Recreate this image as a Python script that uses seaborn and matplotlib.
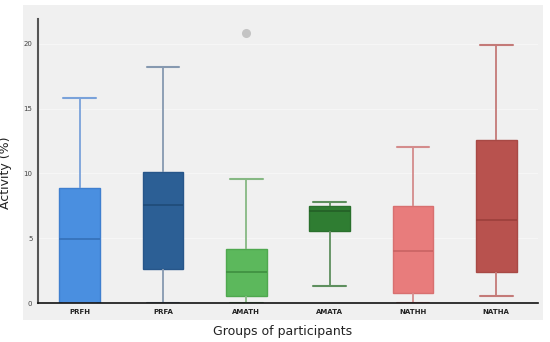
import numpy as np
import pandas as pd
import matplotlib
matplotlib.use("Agg")
import matplotlib.pyplot as plt
import seaborn as sns
from matplotlib.patches import Rectangle

groups = ["PRFH", "PRFA", "AMATH", "AMATA", "NATHH", "NATHA"]
lows = [0.0, 0.0, 0.0, 1.34, 0.0, 0.54]
q1s = [0.0, 2.6, 0.54, 5.53, 0.75, 2.39]
medians = [4.9, 7.55, 2.37, 7.13, 4.04, 6.43]
q3s = [8.85, 10.1, 4.15, 7.52, 7.49, 12.56]
highs = [15.8, 18.2, 9.58, 7.78, 12.0, 19.87]
outliers = [[], [], [20.8], [], [], []]

fill_colors = ["#4a8fe0", "#2c5f95", "#5cb85c", "#2f7d32", "#e87c7c", "#b8524e"]
edge_colors = ["#3f7fcf", "#27568a", "#4fa84f", "#2a702d", "#d87070", "#a84945"]
median_colors = ["#3570b8", "#1f4b78", "#3f8f40", "#235f26", "#c96363", "#9c3f3b"]
whisker_colors = ["#7aa2da", "#8699b0", "#86b883", "#5e8f5e", "#d48c8c", "#c47a78"]

# Long-form table: the summary values, arranged so that
# the library's quartile computation reproduces them.
rows = []
for g, lo, a, m, b, hi, outs in zip(groups, lows, q1s, medians, q3s, highs, outliers):
    if outs:
        vals = [lo, a, a, m, m, b, b, hi] + outs
    else:
        vals = [lo, a, a, m, b, b, hi]
    rows += [(g, v) for v in vals]
df = pd.DataFrame(rows, columns=["group", "value"])

sns.set_theme(style="white")
fig = plt.figure(figsize=(5.5, 3.42), dpi=100)
fig.patches.append(Rectangle((0.0418, 0.0643), 0.945, 0.921, transform=fig.transFigure,
                             facecolor="#f0f0f0", edgecolor="none", zorder=-10))
ax = fig.add_axes([0.0691, 0.114, 0.909, 0.830])
ax.set_zorder(1)
ax.set_facecolor("#f0f0f0")

for i, g in enumerate(groups):
    sub = df[df["group"] == g]
    sns.boxplot(data=sub, x="group", y="value", order=groups, ax=ax,
                color=fill_colors[i], linecolor=edge_colors[i], saturation=1,
                width=0.49, whis=3.0, linewidth=1.0,
                capwidths=0.39,
                boxprops=dict(facecolor=fill_colors[i], edgecolor=edge_colors[i], linewidth=1.0),
                whiskerprops=dict(color=whisker_colors[i], linewidth=1.3),
                capprops=dict(color=whisker_colors[i], linewidth=1.5),
                medianprops=dict(color=median_colors[i], linewidth=1.2),
                flierprops=dict(marker="o", markerfacecolor="#c4c4c4",
                                markeredgecolor="#c4c4c4", markersize=5.5))

ax.set_xlim(-0.5, 5.5)
ax.set_ylim(0, 21.9)
ax.set_yticks([0, 5, 10, 15, 20])
ax.set_yticklabels(["0", "5", "10", "15", "20"], fontsize=5, color="#444444")
ax.set_xticks(range(len(groups)))
ax.set_xticklabels(groups, fontsize=5, fontweight="bold", color="#222222")
ax.tick_params(axis="both", length=0, pad=4)
ax.tick_params(axis="x", pad=4)
ax.yaxis.grid(True, color="#f6f6f6", linewidth=0.8)
ax.set_axisbelow(True)
for s in ["top", "right"]:
    ax.spines[s].set_visible(False)
ax.spines["left"].set_color("#555555")
ax.spines["left"].set_linewidth(1.5)
ax.spines["bottom"].set_color("#111111")
ax.spines["bottom"].set_linewidth(1.2)

ax.set_xlabel("Groups of participants", fontsize=9, color="#222222")
ax.set_ylabel("Activity (%)", fontsize=9, color="#222222")
ax.xaxis.set_label_coords(0.49, -0.078)
ax.yaxis.set_label_coords(-0.052, 0.46)

fig.savefig("out.png", dpi=100)
